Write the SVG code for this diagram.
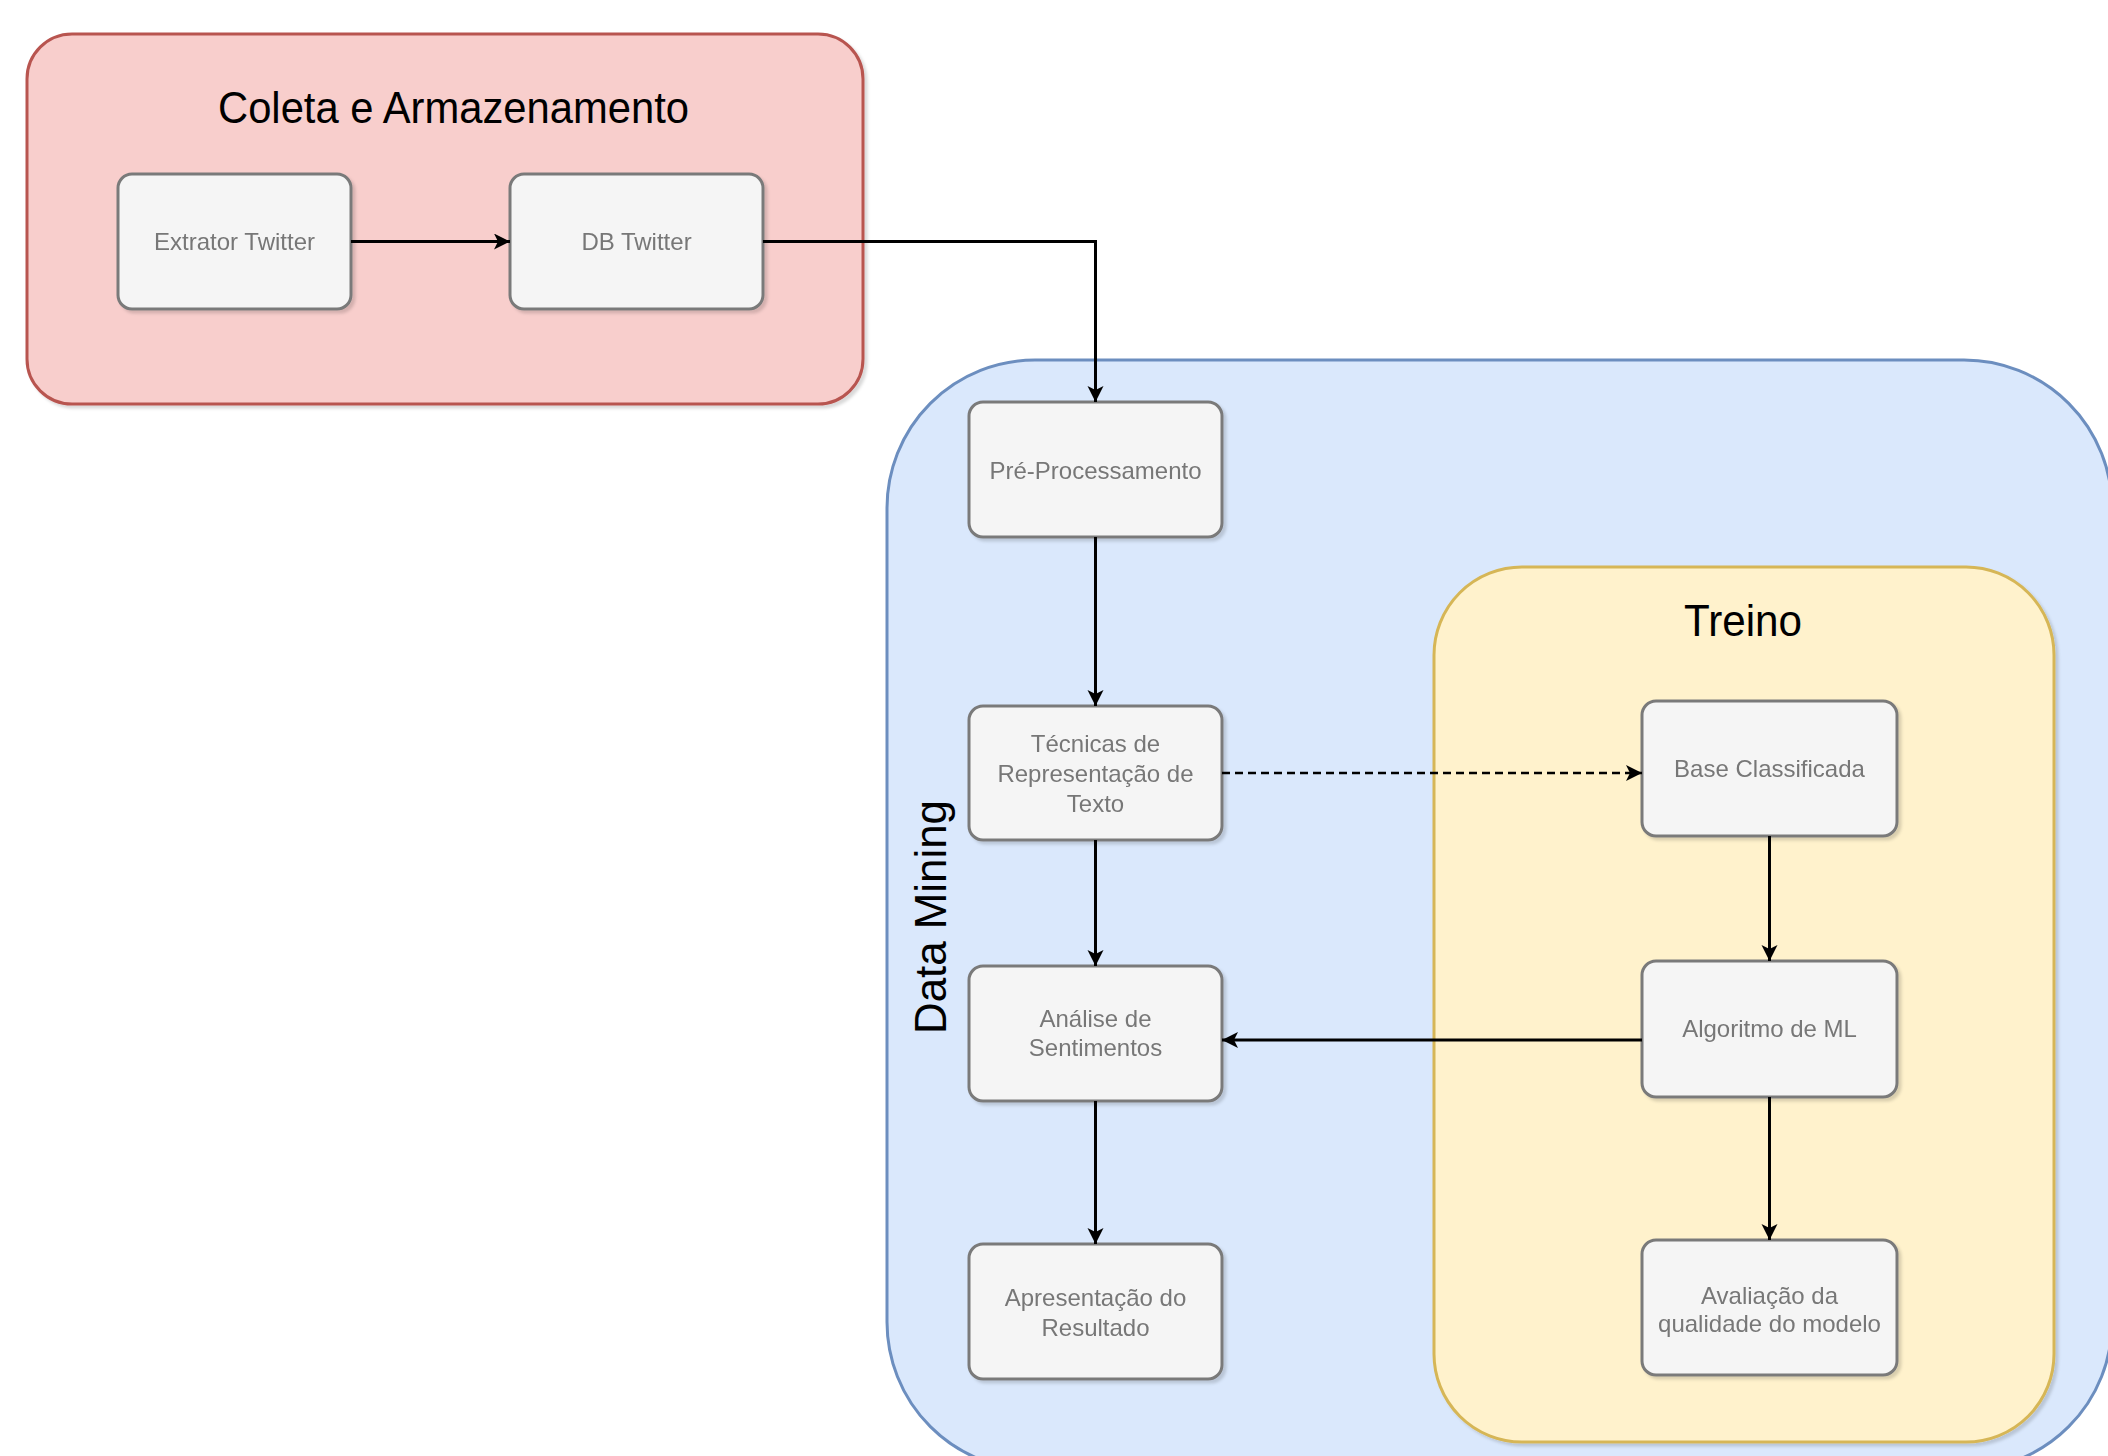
<svg xmlns="http://www.w3.org/2000/svg" width="2108" height="1456" viewBox="0 0 2108 1456">
<style>
.node rect{fill:#f5f5f5;stroke:#7a7a7a;stroke-width:3}
.node text{font-family:"Liberation Sans",Arial,sans-serif;font-size:24px;fill:#777;text-anchor:middle}
.title{font-family:"Liberation Sans",Arial,sans-serif;font-size:45px;fill:#000;text-anchor:middle}
.edge{fill:none;stroke:#000;stroke-width:3}
.dash{stroke-dasharray:8 5;stroke-width:2.5}
</style>
<defs>
<marker id="arr" markerUnits="userSpaceOnUse" markerWidth="18" markerHeight="18" refX="16" refY="8" orient="auto">
<path d="M0,0 L16,8 L0,16 L4,8 Z" fill="#000"/>
</marker>
<filter id="sh" x="-10%" y="-10%" width="130%" height="130%">
<feDropShadow dx="3" dy="3" stdDeviation="1.5" flood-color="#000" flood-opacity="0.15"/>
</filter>
</defs>
<rect width="2108" height="1456" fill="#fff"/>
<g id="coleta">
<rect x="27" y="34" width="836" height="370" rx="45" fill="#f8cecc" stroke="#b85450" stroke-width="3" filter="url(#sh)"/>
<text class="title" x="453.5" y="123" textLength="471" lengthAdjust="spacingAndGlyphs">Coleta e Armazenamento</text>
</g>
<g id="datamining">
<rect x="887" y="360" width="1225" height="1110" rx="148" fill="#dae8fc" stroke="#6c8ebf" stroke-width="3"/>
<text class="title" transform="translate(946,917) rotate(-90)" textLength="234" lengthAdjust="spacingAndGlyphs">Data Mining</text>
</g>
<g id="treino">
<rect x="1434" y="567" width="620" height="875" rx="88" fill="#fff2cc" stroke="#d6b656" stroke-width="3" filter="url(#sh)"/>
<text class="title" x="1743" y="636" textLength="118" lengthAdjust="spacingAndGlyphs">Treino</text>
</g>
<g id="extrator" class="node" filter="url(#sh)">
<rect x="118" y="174" width="233" height="135" rx="14"/>
<text x="234.5" y="250">Extrator Twitter</text>
</g>
<g id="dbtwitter" class="node" filter="url(#sh)">
<rect x="510" y="174" width="253" height="135" rx="14"/>
<text x="636.5" y="250">DB Twitter</text>
</g>
<g id="preproc" class="node" filter="url(#sh)">
<rect x="969" y="402" width="253" height="135" rx="14"/>
<text x="1095.5" y="479">Pré-Processamento</text>
</g>
<g id="tecnicas" class="node" filter="url(#sh)">
<rect x="969" y="706" width="253" height="134" rx="14"/>
<text x="1095.5" y="752">Técnicas de</text>
<text x="1095.5" y="782">Representação de</text>
<text x="1095.5" y="812">Texto</text>
</g>
<g id="analise" class="node" filter="url(#sh)">
<rect x="969" y="966" width="253" height="135" rx="14"/>
<text x="1095.5" y="1027">Análise de</text>
<text x="1095.5" y="1056">Sentimentos</text>
</g>
<g id="apresentacao" class="node" filter="url(#sh)">
<rect x="969" y="1244" width="253" height="135" rx="14"/>
<text x="1095.5" y="1306">Apresentação do</text>
<text x="1095.5" y="1336">Resultado</text>
</g>
<g id="base" class="node" filter="url(#sh)">
<rect x="1642" y="701" width="255" height="135" rx="14"/>
<text x="1769.5" y="777">Base Classificada</text>
</g>
<g id="algoritmo" class="node" filter="url(#sh)">
<rect x="1642" y="961" width="255" height="136" rx="14"/>
<text x="1769.5" y="1037">Algoritmo de ML</text>
</g>
<g id="avaliacao" class="node" filter="url(#sh)">
<rect x="1642" y="1240" width="255" height="135" rx="14"/>
<text x="1769.5" y="1304">Avaliação da</text>
<text x="1769.5" y="1332">qualidade do modelo</text>
</g>
<g id="connectors">
<path class="edge" d="M351,241.5 L510,241.5" marker-end="url(#arr)"/>
<path class="edge" d="M763,241.5 L1095.5,241.5 L1095.5,402" marker-end="url(#arr)"/>
<path class="edge" d="M1095.5,537 L1095.5,706" marker-end="url(#arr)"/>
<path class="edge" d="M1095.5,840 L1095.5,966" marker-end="url(#arr)"/>
<path class="edge" d="M1095.5,1101 L1095.5,1244" marker-end="url(#arr)"/>
<path class="edge dash" d="M1222,773 L1642,773" marker-end="url(#arr)"/>
<path class="edge" d="M1769.5,836 L1769.5,961" marker-end="url(#arr)"/>
<path class="edge" d="M1642,1040 L1222,1040" marker-end="url(#arr)"/>
<path class="edge" d="M1769.5,1097 L1769.5,1240" marker-end="url(#arr)"/>
</g>
</svg>
